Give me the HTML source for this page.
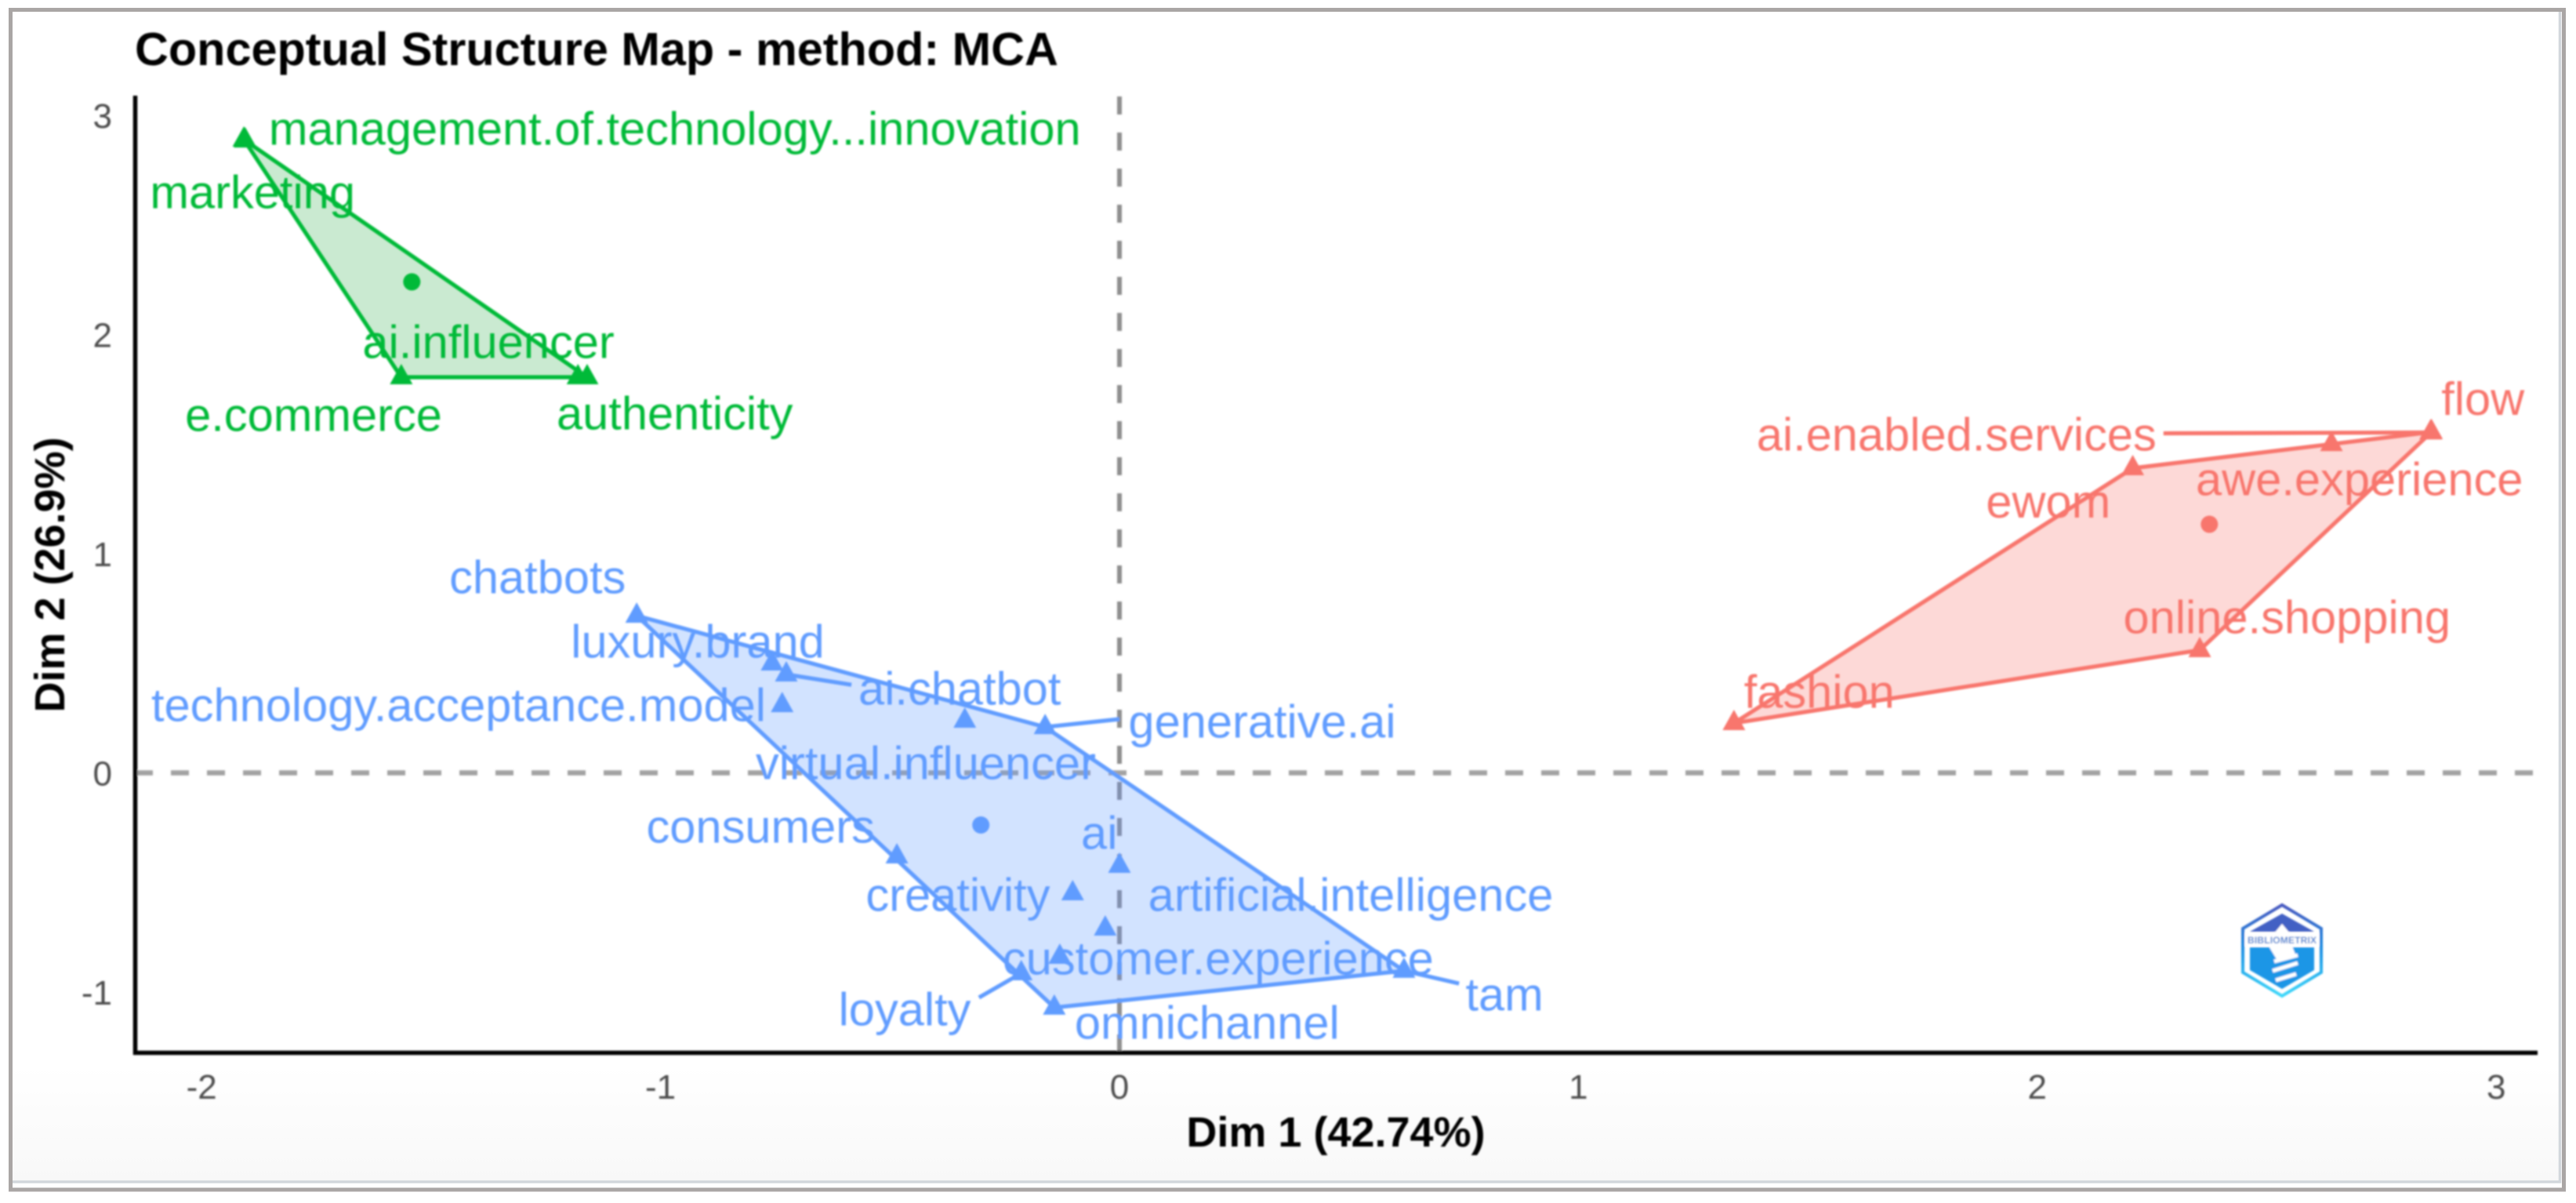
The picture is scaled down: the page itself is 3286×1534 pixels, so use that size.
<!DOCTYPE html>
<html lang="en">
<head>
<meta charset="utf-8">
<title>Conceptual Structure Map - method: MCA</title>
<style>
html,body{margin:0;padding:0;background:#fff;width:3286px;height:1534px;overflow:hidden}
svg{display:block}
text{font-family:"Liberation Sans",sans-serif}
</style>
</head>
<body>
<svg id="chart" xmlns="http://www.w3.org/2000/svg" width="3286" height="1534" viewBox="0 0 3286 1534">
  <defs>
    <linearGradient id="panelFade" x1="0" y1="0" x2="0" y2="1">
      <stop offset="0.9" stop-color="#ffffff"/>
      <stop offset="1" stop-color="#f8f8f8"/>
    </linearGradient>
    <linearGradient id="logoFade" x1="0" y1="0" x2="0" y2="1">
      <stop offset="0" stop-color="#4a5ac0"/>
      <stop offset="0.5" stop-color="#1a90e4"/>
      <stop offset="1" stop-color="#40d8fa"/>
    </linearGradient>
    <filter id="soften" x="-2%" y="-2%" width="104%" height="104%"><feGaussianBlur stdDeviation="1.1"/></filter>
  </defs>
  <rect x="0" y="0" width="3286" height="1534" fill="#ffffff"/>
  <rect x="16" y="15" width="3251" height="1494" fill="url(#panelFade)"/>
  <path d="M16 1507H3265.5V15" fill="none" stroke="#d2d7dc" stroke-width="3.5"/>
  <rect x="13.5" y="12.5" width="3257" height="1504.5" fill="none" stroke="#aaa6a5" stroke-width="5"/>
  <g id="plot" filter="url(#soften)"></g>
</svg>
<script>
// Axis ticks
var xTickValues = [-2, -1, 0, 1, 2, 3];
var yTickValues = [-1, 0, 1, 2, 3];

// Red cluster
var redTerms = ["flow", "ai.enabled.services", "awe.experience", "ewom", "online.shopping", "fashion"];
var redDim1 = [2.859, 2.857, 2.641, 2.208, 2.354, 1.339];
var redDim2 = [1.555, 1.553, 1.50, 1.39, 0.56, 0.227];
var redLabelDim1 = [2.971, 1.824, 2.702, 2.024, 2.544, 1.525];
var redLabelDim2 = [1.639, 1.476, 1.272, 1.170, 0.642, 0.302];
var redLinkDim1 = [null, 2.275, null, null, null, null];
var redLinkDim2 = [null, 1.549, null, null, null, null];
var redCentroid = [2.375, 1.134];

// Green cluster
var greenTerms = ["management.of.technology...innovation", "marketing", "ai.influencer", "e.commerce", "authenticity"];
var greenDim1 = [-1.908, -1.905, -1.18, -1.565, -1.16];
var greenDim2 = [2.889, 2.885, 1.805, 1.805, 1.805];
var greenLabelDim1 = [-0.969, -1.889, -1.375, -1.756, -0.969];
var greenLabelDim2 = [2.871, 2.581, 1.898, 1.565, 1.572];
var greenLinkDim1 = [null, null, null, null, null];
var greenLinkDim2 = [null, null, null, null, null];
var greenCentroid = [-1.542, 2.24];

// Blue cluster
var blueTerms = ["chatbots", "luxury.brand", "technology.acceptance.model", "ai.chatbot", "virtual.influencer", "generative.ai", "consumers", "ai", "creativity", "artificial.intelligence", "customer.experience", "tam", "loyalty", "omnichannel"];
var blueDim1 = [-1.052, -0.757, -0.735, -0.726, -0.337, -0.162, -0.485, 0.0, -0.102, -0.031, -0.130, 0.620, -0.214, -0.142];
var blueDim2 = [0.717, 0.499, 0.309, 0.449, 0.238, 0.209, -0.381, -0.424, -0.549, -0.710, -0.839, -0.903, -0.914, -1.071];
var blueLabelDim1 = [-1.268, -0.919, -1.440, -0.348, -0.422, 0.311, -0.782, -0.044, -0.352, 0.504, 0.215, 0.839, -0.468, 0.191];
var blueLabelDim2 = [0.825, 0.531, 0.242, 0.317, -0.023, 0.166, -0.313, -0.342, -0.624, -0.624, -0.914, -1.079, -1.147, -1.208];
var blueLinkDim1 = [null, null, null, -0.584, null, 0.0, null, null, null, null, null, 0.740, -0.306, null];
var blueLinkDim2 = [null, null, null, 0.402, null, 0.245, null, null, null, null, null, -0.961, -1.025, null];
var blueCentroid = [-0.302, -0.238];

var NS = "http://www.w3.org/2000/svg";
var plot = document.getElementById("plot");

function sx(v) { return 1428 + 585.4 * v; }
function sy(v) { return 985.5 - 279.5 * v; }

function make(tag, attrs, parent) {
  var el = document.createElementNS(NS, tag);
  for (var k in attrs) { el.setAttribute(k, attrs[k]); }
  (parent || plot).appendChild(el);
  return el;
}

function convexHull(pts) {
  var p = pts.slice().sort(function (a, b) { return a[0] - b[0] || a[1] - b[1]; });
  function cross(o, a, b) { return (a[0] - o[0]) * (b[1] - o[1]) - (a[1] - o[1]) * (b[0] - o[0]); }
  var lower = [], upper = [], i;
  for (i = 0; i < p.length; i++) {
    while (lower.length >= 2 && cross(lower[lower.length - 2], lower[lower.length - 1], p[i]) <= 0) { lower.pop(); }
    lower.push(p[i]);
  }
  for (i = p.length - 1; i >= 0; i--) {
    while (upper.length >= 2 && cross(upper[upper.length - 2], upper[upper.length - 1], p[i]) <= 0) { upper.pop(); }
    upper.push(p[i]);
  }
  lower.pop();
  upper.pop();
  return lower.concat(upper);
}

// Reference lines
var vRef = make("line", {x1: sx(0), y1: 1342, x2: sx(0), y2: 122, stroke: "#8f8f8f", "stroke-width": 6, "stroke-dasharray": "23 23"});


var hRef = make("line", {x1: 172, y1: sy(0), x2: 3237, y2: sy(0), stroke: "#a3a3a3", "stroke-width": 6.5, "stroke-dasharray": "23 23"});



function drawHull(name, color, fillColor, fillOpacity, dim1, dim2) {
  var pts = dim1.map(function (v, i) { return [sx(v), sy(dim2[i])]; });
  var hull = convexHull(pts);
  var el = make("polygon", {
    points: hull.map(function (p) { return p[0].toFixed(1) + "," + p[1].toFixed(1); }).join(" "),
    fill: fillColor, "fill-opacity": fillOpacity, stroke: color, "stroke-width": 5.2, "stroke-linejoin": "round"
  });
  
  
}

function drawMarks(name, color, terms, dim1, dim2, linkX, linkY, centroid) {
  terms.forEach(function (term, i) {
    var x = sx(dim1[i]), y = sy(dim2[i]);
    if (linkX[i] !== null) {
      var link = make("line", {x1: sx(linkX[i]), y1: sy(linkY[i]), x2: x, y2: y, stroke: color, "stroke-width": 5.2});
      
      
    }
    var tri = make("polygon", {
      points: x + "," + (y - 17) + " " + (x - 14.5) + "," + (y + 9) + " " + (x + 14.5) + "," + (y + 9),
      fill: color
    });
    
    
  });
  var dot = make("circle", {cx: sx(centroid[0]), cy: sy(centroid[1]), r: 11, fill: color});
  
  
}

function drawLabels(color, terms, labelX, labelY) {
  terms.forEach(function (term, i) {
    var t = make("text", {x: sx(labelX[i]), y: sy(labelY[i]) + 1.5, fill: color, "font-size": 59.6, "text-anchor": "middle"});
    t.textContent = term;
    
    
  });
}

var colorRed = "#F8766D", colorGreen = "#00BA38", colorBlue = "#619CFF";

drawHull("green", colorGreen, "#17a83a", 0.24, greenDim1, greenDim2);
drawHull("blue", colorBlue, colorBlue, 0.28, blueDim1, blueDim2);
drawHull("red", colorRed, colorRed, 0.28, redDim1, redDim2);

drawMarks("green", colorGreen, greenTerms, greenDim1, greenDim2, greenLinkDim1, greenLinkDim2, greenCentroid);
drawMarks("blue", colorBlue, blueTerms, blueDim1, blueDim2, blueLinkDim1, blueLinkDim2, blueCentroid);
drawMarks("red", colorRed, redTerms, redDim1, redDim2, redLinkDim1, redLinkDim2, redCentroid);

drawLabels(colorGreen, greenTerms, greenLabelDim1, greenLabelDim2);
drawLabels(colorBlue, blueTerms, blueLabelDim1, blueLabelDim2);
drawLabels(colorRed, redTerms, redLabelDim1, redLabelDim2);

// Axes
var yAxis = make("line", {x1: 172.5, y1: 122, x2: 172.5, y2: 1345, stroke: "#000", "stroke-width": 5.5});


var xAxis = make("line", {x1: 170, y1: 1342.5, x2: 3237, y2: 1342.5, stroke: "#000", "stroke-width": 5.5});



xTickValues.forEach(function (v) {
  var t = make("text", {x: sx(v), y: 1401, fill: "#4d4d4d", "font-size": 44, "text-anchor": "middle"});
  t.textContent = String(v);
  
  
});
yTickValues.forEach(function (v) {
  var t = make("text", {x: 143, y: sy(v) + 16, fill: "#4d4d4d", "font-size": 44, "text-anchor": "end"});
  t.textContent = String(v);
  
  
});

// Titles
var title = make("text", {x: 172, y: 83, fill: "#000", "font-size": 59.4, "font-weight": "bold"});
title.textContent = "Conceptual Structure Map - method: MCA";


var xTitle = make("text", {x: 1704, y: 1462, fill: "#000", "font-size": 54, "font-weight": "bold", "text-anchor": "middle"});
xTitle.textContent = "Dim 1 (42.74%)";


var yTitle = make("text", {x: 0, y: 0, transform: "translate(82,733) rotate(-90)", fill: "#000", "font-size": 54, "font-weight": "bold", "text-anchor": "middle"});
yTitle.textContent = "Dim 2 (26.9%)";



// Logo
var logo = make("g", {transform: "translate(2911,1212)"});


make("polygon", {points: "0,-58 50,-28 50,28 0,58 -50,28 -50,-28", fill: "none", stroke: "url(#logoFade)", "stroke-width": 4}, logo);
make("polygon", {points: "0,-47 41,-24 -41,-24", fill: "#4361c4"}, logo);
make("polygon", {points: "-41,-4 41,-4 41,25 0,49 -41,25", fill: "#1a96e6"}, logo);
make("rect", {x: -47, y: -22, width: 94, height: 16, fill: "#ffffff"}, logo);
make("polygon", {points: "0,-34 10,-22 -10,-22", fill: "#ffffff"}, logo);
var logoText = make("text", {x: 0, y: -9, "font-size": 12, "font-weight": "bold", fill: "#3f7fd0", "text-anchor": "middle", textLength: 88}, logo);
logoText.textContent = "BIBLIOMETRIX";


make("path", {d: "M-12,-2 L10,-6 L14,4 L-6,8 Z M-10,14 L20,6 M-12,26 L20,16 M-8,38 L18,30", fill: "#ffffff", stroke: "#ffffff", "stroke-width": 5}, logo);
</script>
</body>
</html>
